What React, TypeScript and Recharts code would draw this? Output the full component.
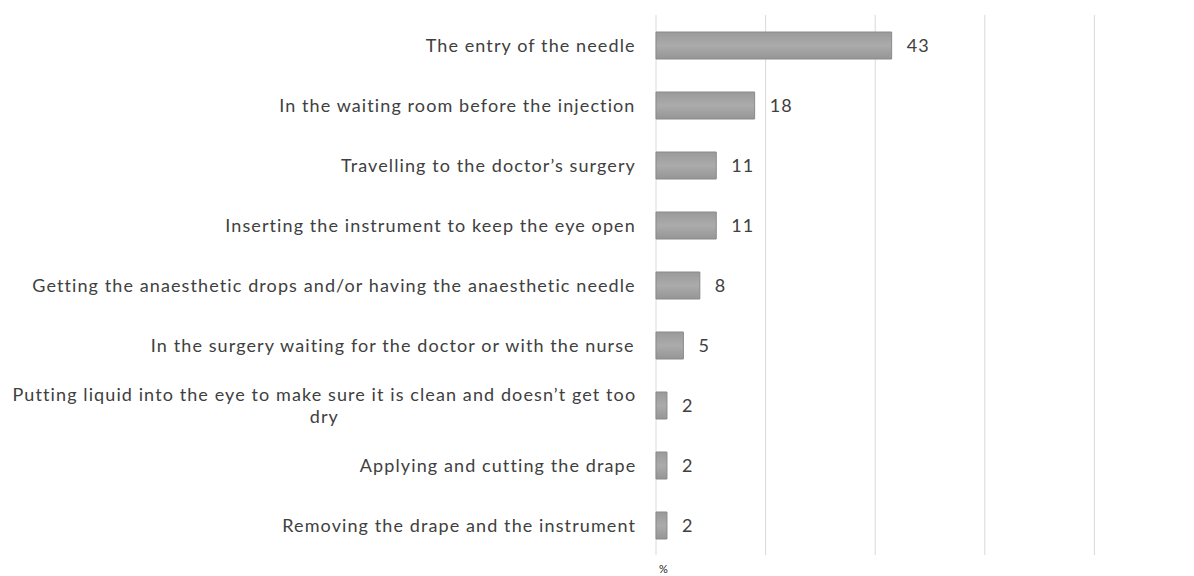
import React from "react";
import {
  BarChart, Bar, XAxis, YAxis, CartesianGrid, LabelList,
} from "recharts";

const categories = [
  "The entry of the needle",
  "In the waiting room before the injection",
  "Travelling to the doctor’s surgery",
  "Inserting the instrument to keep the eye open",
  "Getting the anaesthetic drops and/or having the anaesthetic needle",
  "In the surgery waiting for the doctor or with the nurse",
  "Putting liquid into the eye to make sure it is clean and doesn’t get too dry",
  "Applying and cutting the drape",
  "Removing the drape and the instrument",
];
const percents = [43, 18, 11, 11, 8, 5, 2, 2, 2];
const xTicks = [0, 20, 40, 60, 80, 100];

const FONT = "Lato, sans-serif";
const FONT_SIZE = 18;
const SPACING = 1.1;
const TEXT = "#404040";

let ctx: CanvasRenderingContext2D | null = null;
function measure(s: string) {
  if (!ctx) ctx = document.createElement("canvas").getContext("2d");
  const base = ctx ? (ctx.font = `${FONT_SIZE}px Lato`, ctx.measureText(s).width) : s.length * FONT_SIZE * 0.5;
  return base + s.length * SPACING;
}

// wrap long labels the way Excel does: lines centred inside a right-aligned block
function wrap(label: string, maxW: number) {
  const words = label.split(" ");
  const lines: string[] = [];
  let cur = "";
  for (const w of words) {
    const next = cur ? cur + " " + w : w;
    if (cur && measure(next) > maxW) {
      lines.push(cur);
      cur = w;
    } else cur = next;
  }
  if (cur) lines.push(cur);
  return lines;
}

function CategoryTick(props: any) {
  const { x, y, payload } = props;
  const lines = wrap(payload.value, 630);
  const blockW = Math.max(...lines.map(measure));
  const lh = 22;
  const y0 = y - ((lines.length - 1) * lh) / 2;
  return (
    <g>
      {lines.map((l, i) => (
        <text
          key={i}
          x={x - blockW / 2}
          y={y0 + i * lh}
          textAnchor="middle"
          dominantBaseline="central"
          fontFamily={FONT}
          fontSize={FONT_SIZE}
          letterSpacing={SPACING}
          fill={TEXT}
        >
          {l}
        </text>
      ))}
    </g>
  );
}

export default function App() {
  const data = categories.map((c, i) => ({ label: c, value: percents[i] }));

  return (
    <div style={{ width: 1186, overflow: "hidden" }}>
      <BarChart
        width={1196}
        height={568}
        data={data}
        layout="vertical"
        margin={{ top: 7, right: 0, left: 0, bottom: 0 }}
      >
        <defs>
          <linearGradient id="barGrad" x1="0" y1="0" x2="0" y2="1">
            <stop offset="0%" stopColor="#9a9a9a" />
            <stop offset="50%" stopColor="#ababab" />
            <stop offset="100%" stopColor="#959595" />
          </linearGradient>
        </defs>
        <CartesianGrid horizontal={false} stroke="#d9d9d9" />
        <XAxis
          type="number"
          domain={[0, 100]}
          ticks={xTicks}
          tick={() => <g />}
          axisLine={false}
          tickLine={false}
          height={21}
          label={{
            value: "%",
            position: "insideBottomLeft",
            offset: 3,
            fontSize: 11,
            fill: "#222",
            fontFamily: FONT,
          }}
        />
        <YAxis
          type="category"
          dataKey="label"
          width={648}
          axisLine={false}
          tickLine={false}
          tickMargin={14}
          interval={0}
          tick={<CategoryTick />}
        />
        <Bar
          dataKey="value"
          fill="url(#barGrad)"
          stroke="#8a8a8a"
          strokeWidth={1}
          barSize={27}
          isAnimationActive={false}
        >
          <LabelList
            dataKey="value"
            position="right"
            offset={15}
            fontFamily={FONT}
            fontSize={FONT_SIZE}
            letterSpacing={SPACING}
            fill={TEXT}
          />
        </Bar>
      </BarChart>
    </div>
  );
}
